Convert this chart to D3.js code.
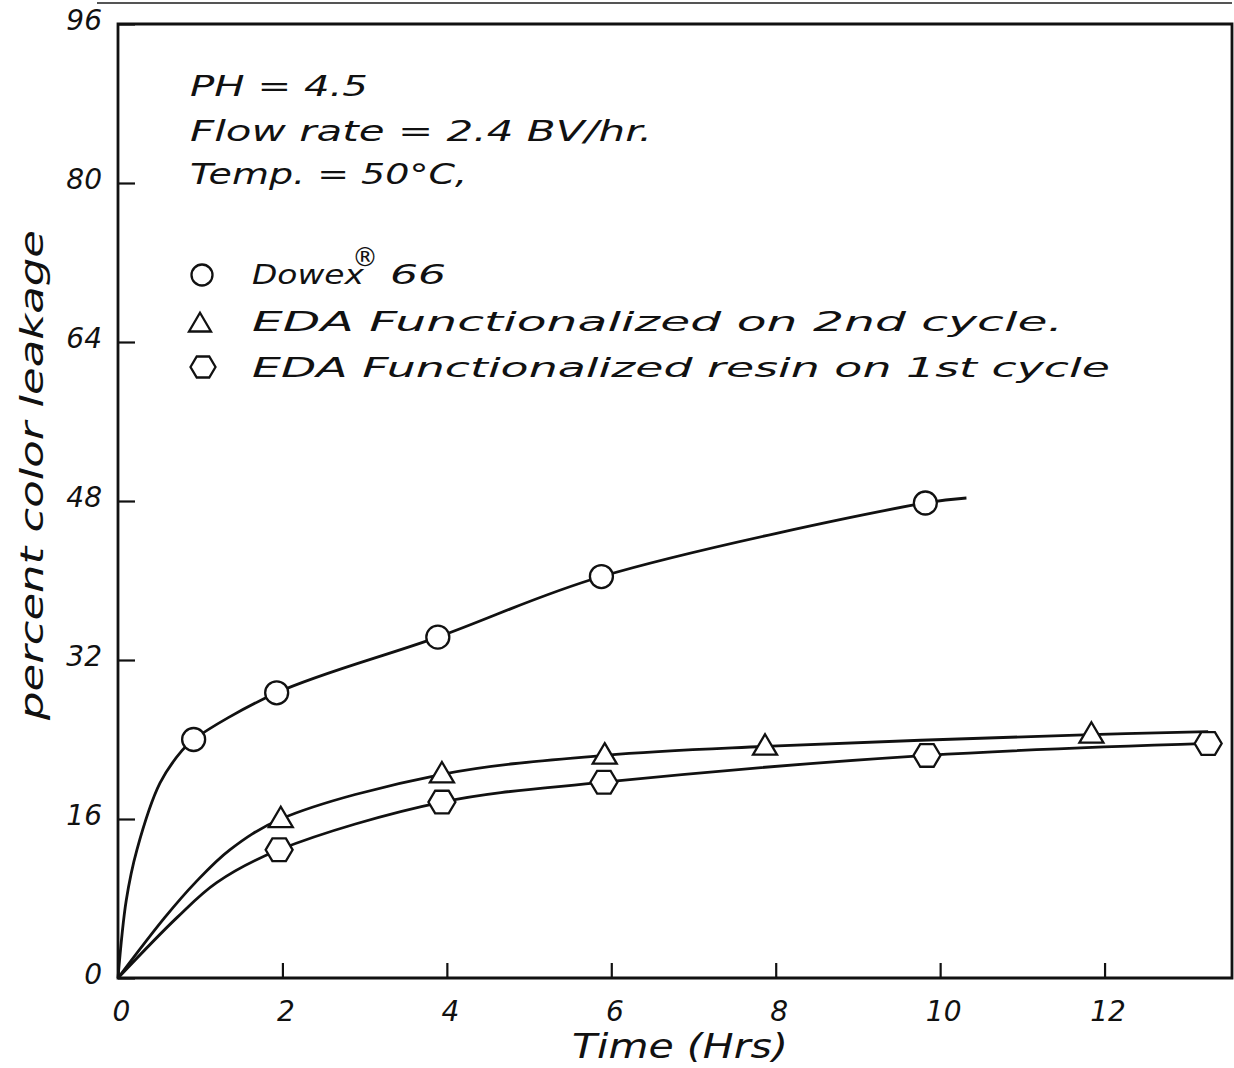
<!DOCTYPE html>
<html>
<head>
<meta charset="utf-8">
<script src="https://cdn.jsdelivr.net/npm/d3@7"></script>
<style>
  html, body { margin: 0; padding: 0; background: #fff; }
  svg { display: block; }
  text { font-family: "DejaVu Sans", sans-serif; font-style: oblique; fill: #111; }
</style>
</head>
<body>
<svg id="chart" width="1234" height="1068"></svg>
<script>
// ---------- data ----------
const xTicks = [0, 2, 4, 6, 8, 10, 12];
const yTicks = [0, 16, 32, 48, 64, 80, 96];

// measured points
const dowexT = [0.92, 1.93, 3.89, 5.88, 9.82];
const dowexV = [24.0, 28.7, 34.3, 40.4, 47.8];
const cycle2T = [1.98, 3.94, 5.92, 7.87, 11.84];
const cycle2V = [16.0, 20.5, 22.4, 23.3, 24.5];
const cycle1T = [1.96, 3.94, 5.91, 9.84, 13.26];
const cycle1V = [12.9, 17.7, 19.7, 22.4, 23.6];

// hand-fitted curves as traced on the picture
const dowexFitT = [0, 0.1, 0.23, 0.51, 0.78, 0.92, 1.93, 3.89, 5.88, 9.82, 10.32];
const dowexFitV = [0, 7.8, 12.9, 19.6, 22.9, 24.0, 28.7, 34.3, 40.4, 47.8, 48.3];
const cycle2FitT = [0, 0.57, 0.94, 1.36, 1.98, 3.94, 5.92, 7.87, 11.84, 13.26];
const cycle2FitV = [0, 6.1, 9.6, 12.9, 16.0, 20.5, 22.4, 23.3, 24.5, 24.8];
const cycle1FitT = [0, 0.72, 1.2, 1.96, 3.94, 5.91, 9.84, 13.26];
const cycle1FitV = [0, 6.1, 9.6, 12.9, 17.7, 19.7, 22.4, 23.6];

const conditions = ["PH = 4.5", "Flow rate = 2.4 BV/hr.", "Temp. = 50°C,"];
const legendLabels = ["Dowex", "EDA Functionalized on 2nd cycle.", "EDA Functionalized resin on 1st cycle"];
const xTitle = "Time (Hrs)";
const yTitle = "percent color leakage";

// ---------- drawing ----------
const svg = d3.select("#chart");
const x = d3.scaleLinear().domain([0, 13.55]).range([118, 1232]);
const y = d3.scaleLinear().domain([0, 96]).range([978, 24]);

// scan edge line at very top
svg.append("line").attr("x1", 97).attr("x2", 1232).attr("y1", 3).attr("y2", 3)
  .attr("stroke", "#555").attr("stroke-width", 2);

// frame
svg.append("path")
  .attr("d", `M${x(0)},${y(0)} L${x(0)},${y(96)} L${x(13.55)},${y(96)} L${x(13.55)},${y(0)} Z`)
  .attr("fill", "none").attr("stroke", "#111").attr("stroke-width", 2.8);

// axes
const xAxis = d3.axisBottom(x).tickValues(xTicks).tickSizeInner(-15).tickSizeOuter(0).tickPadding(23)
  .tickFormat(d3.format("d"));
const gx = svg.append("g").attr("transform", `translate(0,${y(0)})`).call(xAxis);
gx.select(".domain").remove();
gx.selectAll(".tick line").attr("stroke", "#111").attr("stroke-width", 2.2);
gx.selectAll(".tick text").attr("font-size", 28).attr("font-family", "DejaVu Sans")
  .attr("font-style", "oblique").attr("fill", "#111").attr("dx", 3);

const yAxis = d3.axisLeft(y).tickValues(yTicks).tickSizeInner(-17).tickSizeOuter(0).tickPadding(16)
  .tickFormat(d3.format("d"));
const gy = svg.append("g").attr("transform", `translate(${x(0)},0)`).call(yAxis);
gy.select(".domain").remove();
gy.selectAll(".tick line").attr("stroke", "#111").attr("stroke-width", 2.2);
gy.selectAll(".tick text").attr("font-size", 28).attr("font-family", "DejaVu Sans")
  .attr("font-style", "oblique").attr("fill", "#111").attr("dy", "0.2em");

// axis titles
svg.append("text").attr("x", 572).attr("y", 1058).attr("font-size", 33)
  .attr("textLength", 216).attr("lengthAdjust", "spacingAndGlyphs").text(xTitle);
svg.append("text").attr("transform", "translate(43,720) rotate(-90)").attr("font-size", 32)
  .attr("textLength", 490).attr("lengthAdjust", "spacingAndGlyphs").text(yTitle);

// conditions text
const condY = [96, 141, 184];
const condW = [178, 462, 277];
conditions.forEach((c, i) => {
  svg.append("text").attr("x", 190).attr("y", condY[i]).attr("font-size", 29)
    .attr("textLength", condW[i]).attr("lengthAdjust", "spacingAndGlyphs").text(c);
});

// marker shapes
function markerPath(kind, s) {
  if (kind === "triangle") {
    const h = s * 0.85;
    return `M0,${-h * 0.6} L${s / 2},${h * 0.4} L${-s / 2},${h * 0.4} Z`;
  }
  // hexagon with points left/right
  const w = s / 2, hh = s * 0.42;
  return `M${-w},0 L${-w / 2},${-hh} L${w / 2},${-hh} L${w},0 L${w / 2},${hh} L${-w / 2},${hh} Z`;
}
function drawMarker(g, kind, cx, cy, s) {
  if (kind === "circle") {
    g.append("circle").attr("cx", cx).attr("cy", cy).attr("r", s / 2)
      .attr("fill", "#fff").attr("stroke", "#111").attr("stroke-width", 2.3);
  } else {
    g.append("path").attr("d", markerPath(kind, s)).attr("transform", `translate(${cx},${cy})`)
      .attr("fill", "#fff").attr("stroke", "#111").attr("stroke-width", 2.3);
  }
}

// fitted curves
const line = d3.line().x(d => x(d[0])).y(d => y(d[1])).curve(d3.curveCatmullRom.alpha(0.5));
const fits = [
  [dowexFitT, dowexFitV],
  [cycle2FitT, cycle2FitV],
  [cycle1FitT, cycle1FitV]
];
fits.forEach(([t, v]) => {
  svg.append("path").datum(d3.zip(t, v)).attr("d", line)
    .attr("fill", "none").attr("stroke", "#111").attr("stroke-width", 2.8);
});

// markers
const gm = svg.append("g");
d3.zip(dowexT, dowexV).forEach(d => drawMarker(gm, "circle", x(d[0]), y(d[1]), 23));
d3.zip(cycle2T, cycle2V).forEach(d => drawMarker(gm, "triangle", x(d[0]), y(d[1]), 24));
d3.zip(cycle1T, cycle1V).forEach(d => drawMarker(gm, "hexagon", x(d[0]), y(d[1]), 27));

// legend
const lg = svg.append("g");
drawMarker(lg, "circle", 202, 275, 21);
drawMarker(lg, "triangle", 200, 324, 22);
drawMarker(lg, "hexagon", 203, 367, 25);
const legY = [284, 331, 377];
const legW = [112, 811, 858];
legendLabels.forEach((l, i) => {
  svg.append("text").attr("x", 252).attr("y", legY[i]).attr("font-size", 27)
    .attr("textLength", legW[i]).attr("lengthAdjust", "spacingAndGlyphs").text(l);
});
svg.append("text").attr("x", 352).attr("y", 266).attr("font-size", 26)
  .attr("font-style", "normal").text("®");
svg.append("text").attr("x", 390).attr("y", 284).attr("font-size", 27)
  .attr("textLength", 56).attr("lengthAdjust", "spacingAndGlyphs").text("66");
</script>
</body>
</html>
